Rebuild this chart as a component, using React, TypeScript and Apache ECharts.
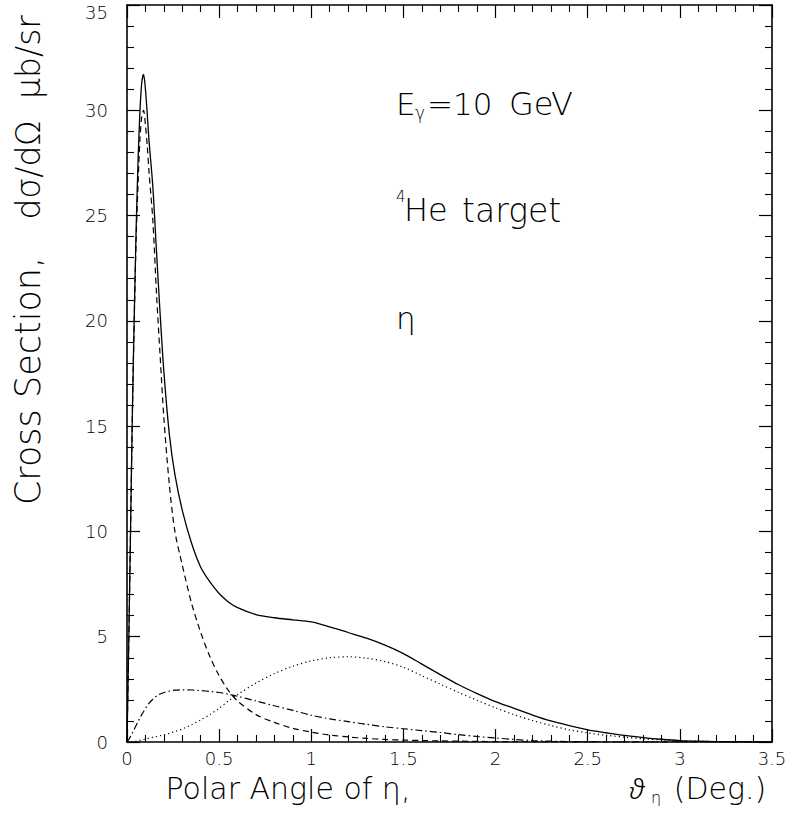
import React, { useEffect, useRef } from "react";
import * as echarts from "echarts";

// Polar angle of eta (deg)
const theta = [
  0, 0.01, 0.02, 0.03, 0.04, 0.05, 0.06, 0.07, 0.08, 0.09, 0.1, 0.11, 0.12, 0.14, 0.16, 0.18, 0.2,
  0.23, 0.26, 0.3, 0.35, 0.4, 0.45, 0.5, 0.55, 0.6, 0.7, 0.8, 0.9, 1.0, 1.1, 1.2, 1.3, 1.4, 1.5,
  1.6, 1.7, 1.8, 1.9, 2.0, 2.1, 2.2, 2.3, 2.4, 2.5, 2.6, 2.7, 2.8, 2.9, 3.0, 3.1, 3.2, 3.3, 3.4, 3.5,
];

// Total cross section (solid)
const totalXS = [
  0, 5, 10.5, 16, 20.5, 24.5, 27.6, 29.9, 31.3, 31.7, 31.0, 29.8, 28.5, 26.4, 23.3, 20.3, 17.6,
  14.6, 12.7, 11.0, 9.45, 8.3, 7.6, 7.05, 6.65, 6.38, 6.05, 5.9, 5.8, 5.7, 5.47, 5.2, 4.93, 4.6, 4.2,
  3.7, 3.2, 2.72, 2.3, 1.92, 1.6, 1.28, 1.0, 0.78, 0.58, 0.44, 0.31, 0.21, 0.13, 0.07, 0.04, 0.02, 0.01, 0, 0,
];

// Dashed component
const dashedXS = [
  0, 5, 10.5, 16, 20.3, 24.0, 26.5, 28.6, 29.7, 30.0, 29.3, 28.3, 27.0, 24.8, 21.3, 18.3, 15.4,
  12.2, 10.0, 8.4, 6.6, 5.2, 4.05, 3.15, 2.45, 1.95, 1.3, 0.93, 0.65, 0.47, 0.33, 0.24, 0.17, 0.12, 0.09,
  0.07, 0.05, 0.04, 0.03, 0.02, 0.015, 0.01, 0.01, 0.01, 0.005, 0, 0, 0, 0, 0, 0, 0, 0, 0, 0,
];

// Dotted component
const dottedXS = [
  0, 0, 0.01, 0.02, 0.03, 0.04, 0.06, 0.08, 0.1, 0.12, 0.14, 0.16, 0.18, 0.22, 0.26, 0.3, 0.34,
  0.41, 0.5, 0.62, 0.82, 1.05, 1.3, 1.6, 1.95, 2.25, 2.8, 3.25, 3.6, 3.85, 4.0, 4.05, 3.98, 3.82, 3.55,
  3.15, 2.75, 2.35, 1.98, 1.62, 1.3, 1.02, 0.78, 0.58, 0.43, 0.32, 0.23, 0.15, 0.1, 0.06, 0.035, 0.02, 0.01, 0, 0,
];

// Dash-dotted component
const dashDotXS = [
  0, 0.12, 0.28, 0.45, 0.62, 0.8, 0.97, 1.13, 1.3, 1.45, 1.6, 1.73, 1.85, 2.03, 2.18, 2.28, 2.35,
  2.42, 2.46, 2.48, 2.47, 2.44, 2.4, 2.35, 2.27, 2.17, 1.95, 1.72, 1.5, 1.27, 1.1, 0.97, 0.84, 0.72, 0.63,
  0.54, 0.45, 0.35, 0.26, 0.19, 0.12, 0.07, 0.04, 0.02, 0.01, 0, 0, 0, 0, 0, 0, 0, 0, 0, 0,
];

const FONT = "'DejaVu Sans', sans-serif";
const WEIGHT = 200;

function pairs(ys: number[]) {
  return theta.map((t, i) => [t, ys[i]]);
}

function makeAxis(
  kind: "x" | "y",
  position: string,
  showLabels: boolean,
  min: number,
  max: number,
  interval: number
) {
  const label: any = {
    show: showLabels,
    color: "#000",
    fontFamily: FONT,
    fontWeight: WEIGHT,
    fontSize: 18,
    margin: kind === "x" ? 7 : 19,
  };
  if (kind === "y") {
    label.lineHeight = 14;
    label.verticalAlignMaxLabel = "top";
  }
  return {
    type: "value",
    position,
    min,
    max,
    interval,
    axisLine: { show: true, onZero: false, lineStyle: { color: "#000", width: 1.6 } },
    axisTick: { show: true, inside: true, length: 13, lineStyle: { color: "#000", width: 1.2 } },
    minorTick: { show: true, splitNumber: 5, length: 7, lineStyle: { color: "#000", width: 1.1 } },
    splitLine: { show: false },
    minorSplitLine: { show: false },
    axisLabel: label,
  };
}

function txt(
  text: string,
  x: number,
  y: number,
  size: number,
  align = "left",
  vAlign = "middle",
  rotation = 0,
  extra: any = {}
) {
  return {
    type: "text",
    x,
    y,
    rotation,
    silent: true,
    style: {
      text,
      fill: "#000",
      fontFamily: FONT,
      fontWeight: WEIGHT,
      fontSize: size,
      align,
      verticalAlign: vAlign,
      textAlign: align,
      textVerticalAlign: vAlign,
      ...extra,
    },
  };
}

export default function App() {
  const ref = useRef<HTMLDivElement>(null);

  useEffect(() => {
    if (!ref.current) return;
    const chart = echarts.init(ref.current, null, { renderer: "svg" });
    const lineBase = { type: "line", showSymbol: false, symbol: "none", smooth: 0.3, xAxisIndex: 0, yAxisIndex: 0 };
    const R = Math.PI / 2;
    const option: any = {
      animation: false,
      backgroundColor: "#fff",
      grid: { left: 127, right: 18, top: 5, bottom: 71, containLabel: false, outerBoundsMode: "none" },
      xAxis: [
        makeAxis("x", "bottom", true, 0, 3.5, 0.5),
        makeAxis("x", "top", false, 0, 3.5, 0.5),
      ],
      yAxis: [
        makeAxis("y", "left", true, 0, 35, 5),
        makeAxis("y", "right", false, 0, 35, 5),
      ],
      series: [
        { ...lineBase, name: "total", data: pairs(totalXS), lineStyle: { color: "#000", width: 1.3, type: "solid" } },
        { ...lineBase, name: "dashed", data: pairs(dashedXS), lineStyle: { color: "#000", width: 1.2, type: [6, 4] } },
        { ...lineBase, name: "dotted", data: pairs(dottedXS), lineStyle: { color: "#000", width: 1.2, type: [1.2, 3] } },
        { ...lineBase, name: "dashdot", data: pairs(dashDotXS), lineStyle: { color: "#000", width: 1.2, type: [7, 3, 1.5, 3] } },
      ],
      graphic: [
        // Y axis title pieces
        txt("Cross Section,", 28, 381, 35, "center", "middle", R),
        txt("d\u03c3/d\u03a9", 28, 170, 33, "center", "middle", R),
        txt("\u03bcb/sr", 28, 57, 33, "center", "middle", R),
        // X axis title
        txt("Polar Angle of \u03b7,", 288, 788, 30, "center", "middle"),
        txt("\u03d1", 637, 788, 28, "center", "middle", 0, { fontFamily: "'Noto Sans', 'DejaVu Sans', sans-serif", fontWeight: 300, fontStyle: "italic" }),
        txt("\u03b7", 656, 797, 16, "center", "middle"),
        txt("(Deg.)", 720, 788, 30, "center", "middle"),
        // Annotations
        txt("E", 396, 104, 31, "left", "middle"),
        txt("\u03b3", 415, 113, 17, "left", "middle"),
        txt("=10", 427, 104, 31, "left", "middle"),
        txt("GeV", 509, 104, 32, "left", "middle"),
        txt("4", 396, 197, 15, "left", "middle"),
        txt("He", 404, 210, 32, "left", "middle"),
        txt("target", 462, 210, 33, "left", "middle"),
        txt("\u03b7", 396, 318, 31, "left", "middle"),
      ],
    };
    chart.setOption(option);
    return () => chart.dispose();
  }, []);

  return <div ref={ref} style={{ position: "absolute", left: 0, top: 0, width: 790, height: 813 }} />;
}
